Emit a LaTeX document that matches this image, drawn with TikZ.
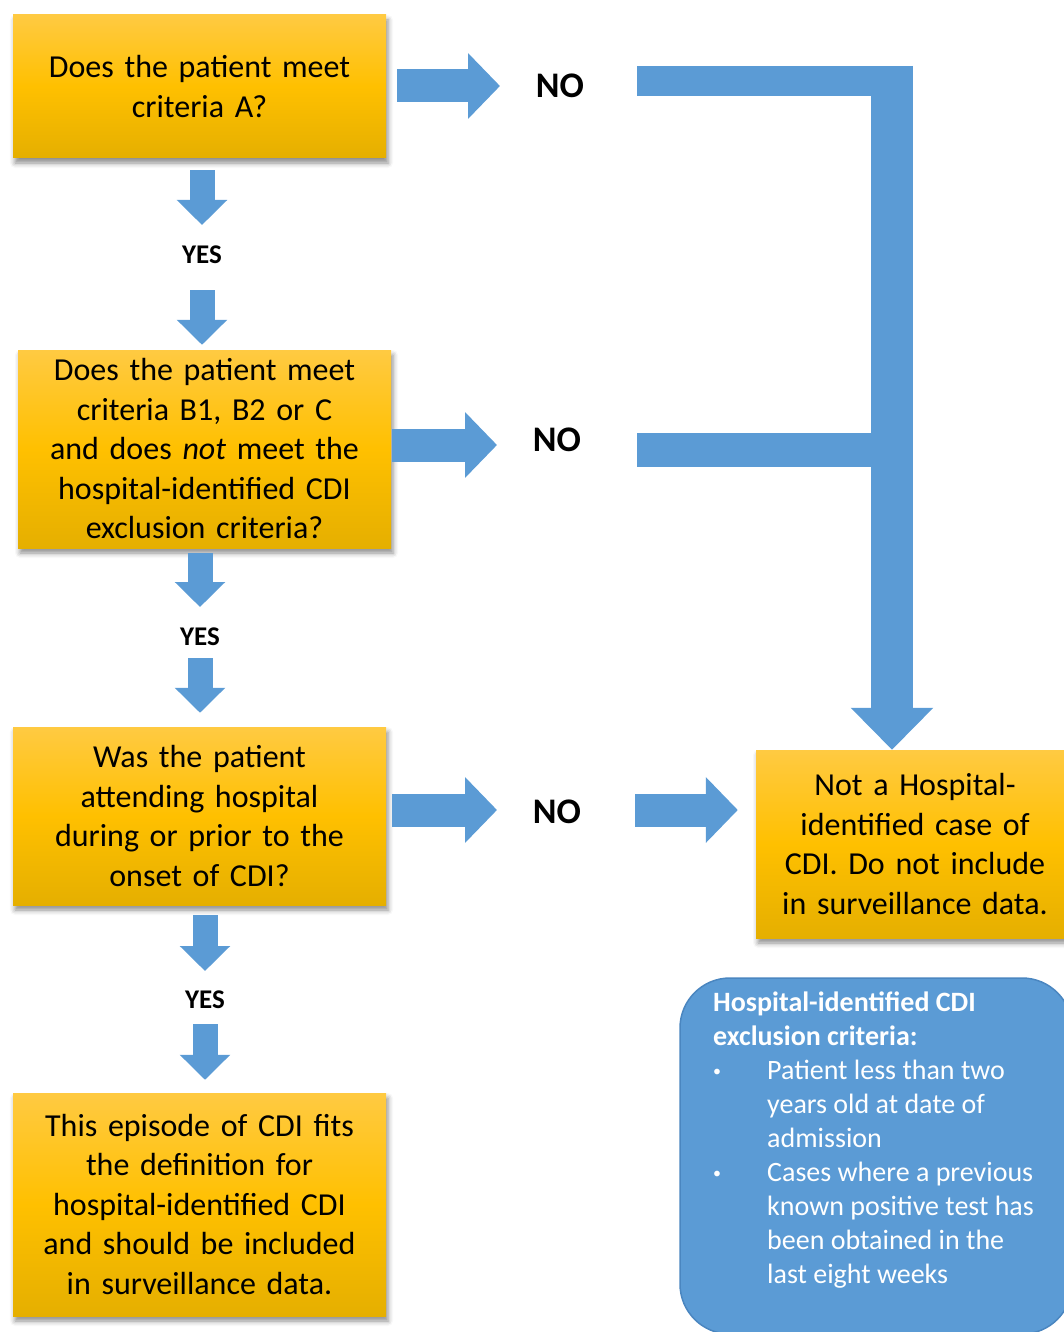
\documentclass[tikz,border=0pt]{standalone}
\usepackage{fontspec}
\setmainfont{Carlito}
\usetikzlibrary{arrows.meta,calc,shadows.blur}

\definecolor{arrowblue}{HTML}{5B9BD5}
\definecolor{blueedge}{HTML}{4A86C0}
\definecolor{goldtop}{HTML}{FFCA42}
\definecolor{goldmid}{HTML}{FFC000}
\definecolor{goldbot}{HTML}{E5AF00}

\begin{document}
\begin{tikzpicture}[
        x=1pt, y=-1pt,
        goldbox/.style={
            rectangle,
            top color=goldtop,
            bottom color=goldbot,
            middle color=goldmid,
            minimum width=373pt,
            text width=355pt,
            align=center,
            inner sep=4pt,
            font=\fontsize{32}{39.5}\selectfont,
            blur shadow={shadow xshift=2pt, shadow yshift=-5pt, shadow blur radius=5pt, shadow opacity=45}
        },
        yeslabel/.style={font=\bfseries\fontsize{27}{30}\selectfont},
        nolabel/.style={font=\bfseries\fontsize{36}{40}\selectfont},
        downarrow/.style={draw=arrowblue, line width=25pt, -{Triangle[width=49pt,length=25pt]}},
        rightarrow/.style={draw=arrowblue, line width=33pt, -{Triangle[width=64pt,length=32pt]}},
        bar/.style={draw=arrowblue},
        critbox/.style={anchor=north west, inner sep=0pt, text=white, align=left,
            font=\fontsize{28}{34}\selectfont}
    ]

    \useasboundingbox (0,0) rectangle (1064,1332);

    \node[goldbox, minimum height=143pt] (q1) at (199.5,86.5) {Does the patient meet\\criteria A?};
    \node[goldbox, minimum height=198pt] (q2) at (204.5,449) {Does the patient meet\\criteria B1, B2 or C\\and does \emph{not} meet the\\hospital-identified CDI\\exclusion criteria?};
    \node[goldbox, minimum height=178pt] (q3) at (199.5,816) {Was the patient\\attending hospital\\during or prior to the\\onset of CDI?};
    \node[goldbox, minimum height=223pt] (incl) at (199.5,1204.5) {This episode of CDI fits\\the definition for\\hospital-identified CDI\\and should be included\\in surveillance data.};
    \node[goldbox, minimum width=318pt, text width=300pt, minimum height=188pt] (excl) at (915,844) {Not a Hospital-\\identified case of\\CDI. Do not include\\in surveillance data.};

    \node[yeslabel] (yes1) at (202,255) {YES};
    \node[yeslabel] (yes2) at (200,637) {YES};
    \node[yeslabel] (yes3) at (205,1000) {YES};

    \node[nolabel] (no1) at (560,86) {NO};
    \node[nolabel] (no2) at (557,440) {NO};
    \node[nolabel] (no3) at (557,812) {NO};

    \coordinate (join) at (892,66);

    \draw[downarrow] ($(yes1 |- q1.south)+(0,12)$) -- ($(yes1.center)+(0,-30)$);
    \draw[downarrow] ($(yes1.center)+(0,35)$) -- ($(yes1 |- q2.north)+(0,-5)$);
    \draw[downarrow] ($(yes2 |- q2.south)+(0,5)$) -- ($(yes2.center)+(0,-30)$);
    \draw[downarrow] ($(yes2.center)+(0,21)$) -- ($(yes2 |- q3.north)+(0,-14)$);
    \draw[downarrow] ($(yes3 |- q3.south)+(0,10)$) -- ($(yes3.center)+(0,-29)$);
    \draw[downarrow] ($(yes3.center)+(0,24)$) -- ($(yes3 |- incl.north)+(0,-13)$);

    \draw[rightarrow] ($(no1.center)+(-163,0)$) -- ($(no1.center)+(-60,0)$);
    \draw[rightarrow] ($(no2.center)+(-165,5)$) -- ($(no2.center)+(-60,5)$);
    \draw[rightarrow] ($(no3.center)+(-165,-2)$) -- ($(no3.center)+(-60,-2)$);
    \draw[rightarrow] ($(no3.center)+(78,-2)$) -- ($(no3.center -| excl.west)+(-18,-2)$);

    \draw[bar, line width=30pt] ($(no1.center)+(77,-5)$) -- ($(join)+(21,15)$);
    \draw[bar, line width=34pt] ($(no2.center)+(80,10)$) -- ($(no2.center -| join)+(0,10)$);
    \draw[bar, line width=42pt, -{Triangle[width=80pt,length=42pt]}] (join) -- (join |- excl.north);

    \fill[arrowblue, draw=blueedge, line width=1.5pt, rounded corners=50pt] (680,978) rectangle (1072,1334);
    \node[critbox] (crit) at (713,987) {%
        \begin{tabular}{@{}p{54pt}@{}l@{}}
        \multicolumn{2}{@{}l@{}}{\bfseries Hospital-identified CDI}\\
        \multicolumn{2}{@{}l@{}}{\bfseries exclusion criteria:}\\
        \raisebox{3pt}{\fontsize{16}{16}\selectfont\textbullet} & Patient less than two\\
         & years old at date of\\
         & admission\\
        \raisebox{3pt}{\fontsize{16}{16}\selectfont\textbullet} & Cases where a previous\\
         & known positive test has\\
         & been obtained in the\\
         & last eight weeks
        \end{tabular}};

\end{tikzpicture}
\end{document}
